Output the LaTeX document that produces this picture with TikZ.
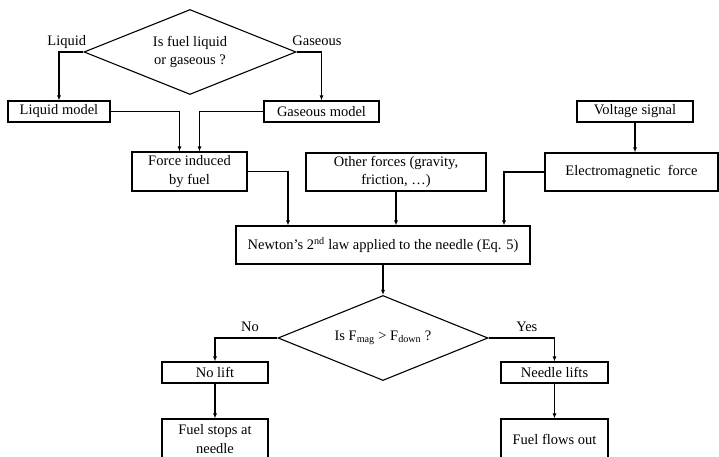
\documentclass[tikz,border=0pt]{standalone}
\usepackage{fontspec}
\setmainfont{Liberation Serif}
\usetikzlibrary{shapes.geometric,arrows.meta}

\tikzset{
  box/.style={draw, line width=1.1pt, inner sep=0pt, align=center, minimum height=21pt},
  decision/.style={draw, diamond, aspect=2.5, line width=1.1pt, inner sep=0pt, align=center},
  arr/.style={-{Latex[length=5pt,width=4pt]}, line width=1.1pt},
  lbl/.style={inner sep=1pt, text height=10pt, text depth=3pt}
}

\begin{document}
\begin{tikzpicture}[x=1pt, y=-1pt, line join=miter, font=\fontsize{14.5}{18.5}\selectfont]
	\useasboundingbox (0,0) rectangle (719,457);

	%Fuel type
	\node[decision, minimum width=212pt, minimum height=85pt] (fueltype) at (190,52) {Is fuel liquid\\or gaseous ?};
	\node[box, minimum width=102pt] (liquid) at (59,111.5) {Liquid model};
	\node[box, minimum width=115pt] (gaseous) at (321.5,111.5) {Gaseous model};

	%Forces
	\node[box, minimum width=115pt, minimum height=39pt] (fuelforce) at (189.5,171.5) {Force induced\\by fuel};
	\node[box, minimum width=180pt, minimum height=38pt] (otherforce) at (396,172) {Other forces (gravity,\\friction, …)};
	\node[box, minimum width=116pt] (voltage) at (635,111.5) {Voltage signal};
	\node[box, minimum width=173pt, minimum height=38pt] (emforce) at (631.5,172) {Electromagnetic\ \ force};
	\node[box, minimum width=294pt, minimum height=38pt] (newton) at (383,245) {Newton’s 2\textsuperscript{nd} law applied to the needle (Eq. 5)};

	%Lift
	\node[decision, minimum width=210pt, minimum height=85pt] (lift) at (383,338) {Is F\textsubscript{mag} > F\textsubscript{down} ?};
	\node[box, minimum width=106pt] (nolift) at (215,372.5) {No lift};
	\node[box, minimum width=107pt] (needlelift) at (554.5,372.5) {Needle lifts};
	\node[box, minimum width=106pt, minimum height=40pt] (stops) at (215,439) {Fuel stops at\\needle};
	\node[box, minimum width=107pt, minimum height=40pt] (flows) at (554.5,439) {Fuel flows out};

	%Arrows
	\draw[arr] (fueltype.west) -| node[lbl, above=2pt, pos=0.34] {Liquid} (liquid.north);
	\draw[arr] (fueltype.east) -| node[lbl, above=2pt, pos=0.41] {Gaseous} (gaseous.north);
	\draw[arr] (liquid.east) -| ([xshift=-10pt]fuelforce.north);
	\draw[arr] (gaseous.west) -| ([xshift=10pt]fuelforce.north);
	\draw[arr] (fuelforce.east) -| ([xshift=-95pt]newton.north);
	\draw[arr] (otherforce.south) -- (otherforce.south |- newton.north);
	\draw[arr] (voltage.south) -- (voltage.south |- emforce.north);
	\draw[arr] (emforce.west) -| ([xshift=121pt]newton.north);
	\draw[arr] (newton.south) -- (lift.north);
	\draw[arr] (lift.west) -| node[lbl, above=2pt, pos=0.22] {No} (nolift.north);
	\draw[arr] (lift.east) -| node[lbl, above=2pt, pos=0.29] {Yes} (needlelift.north);
	\draw[arr] (nolift.south) -- (stops.north);
	\draw[arr] (needlelift.south) -- (flows.north);
\end{tikzpicture}
\end{document}
